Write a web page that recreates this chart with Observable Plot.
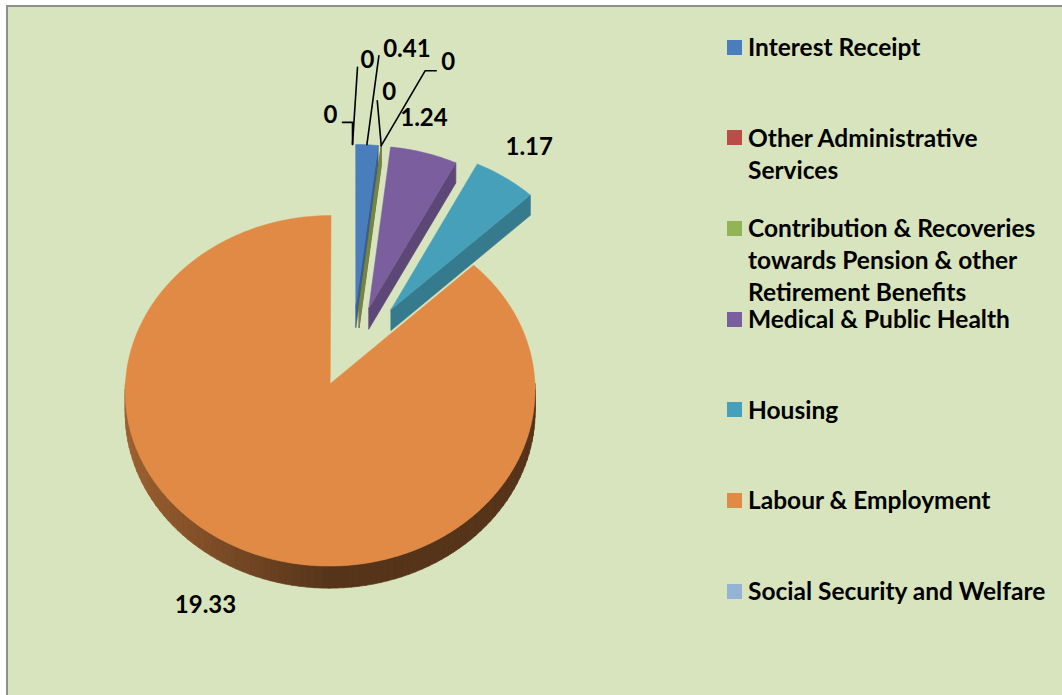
<!DOCTYPE html>
<html><head><meta charset="utf-8">
<script src="https://cdn.jsdelivr.net/npm/d3@7"></script>
<script src="https://cdn.jsdelivr.net/npm/@observablehq/plot@0.6"></script>
<style>
body{margin:0;background:#fff;font-family:Lato,"Open Sans",sans-serif;}
#frame{position:absolute;left:6px;top:5px;width:1060px;height:694px;background:#d7e4bd;border-left:2px solid #8f8f8f;border-top:2px solid #8f8f8f;}
#chart{position:absolute;left:0;top:0;}
#legend{position:absolute;left:727px;top:31px;}
.item{position:absolute;left:0;display:flex;align-items:flex-start;width:340px}
.sw{width:15px;height:15px;margin-top:8.5px;margin-right:6px;flex:none}
.lab{font-weight:700;font-size:24.5px;line-height:32px;color:#000;width:314px}
</style></head><body>
<div id="frame"></div><div id="chart"></div><div id="legend"></div>
<script>
// ---- data ----
const categories = [
  "Interest Receipt",
  "Other Administrative Services",
  "Contribution & Recoveries towards Pension & other Retirement Benefits",
  "Medical & Public Health",
  "Housing",
  "Labour & Employment",
  "Social Security and Welfare",
  "Others"
];
const values = [0.41, 0, 0, 1.24, 1.17, 19.33, 0, 0];
const colors = ["#4a7dbc", "#bb4d49", "#93b454", "#7b5e9d", "#47a0ba", "#e18a45", "#95b3d7", "#dc9896"];
const legendCount = 7; // entries that fit inside the chart frame

// ---- layout / style ----
const W = 1062, H = 695;
const CX = 352, CY = 346, RX = 203, RY = 172, P = 0.04, DEPTH = 21;
const EX = 0.28, EZ = 0.233; // explosion
const explode = [1, 1, 1, 1, 1.15, 1, 1, 1];
const labelLayout = [
  {dx: 40, dy: -95, ax: -28, ay: 6, elbow: 0, leader: true},
  {dx: 8, dy: -53, ax: -12, ay: 8, elbow: 0, leader: true},
  {dx: 67, dy: -83, ax: -12, ay: 8, elbow: -11, leader: true},
  {dx: 0, dy: -34},
  {dx: 24, dy: -30},
  {dx: -41, dy: 54},
  {dx: 15, dy: -84, ax: -10, ay: 7, elbow: 0, leader: true},
  {dx: -22, dy: -29, ax: 12, ay: 7, elbow: 10, leader: true}
];

const rows = categories.map((c, i) => ({category: c, value: values[i], color: colors[i], i}));
const arcs = d3.pie().sort(null).value(d => d.value)(rows);

function proj(X, Z, h = 0) {
  const w = 1 / (1 - P * Z);
  return {x: X * w, y: Z * w + h * w / RY};
}
function shade(c, k) {
  const r = d3.rgb(c);
  return d3.rgb(r.r * k, r.g * k, r.b * k).formatHex();
}

const faces = [], walls = [], labels = [], leaders = [];
const STEP = Math.PI / 180;
arcs.forEach((a, idx) => {
  const d = a.data;
  const a0 = a.startAngle, a1 = a.endAngle, m = (a0 + a1) / 2;
  const ox = EX * explode[idx] * Math.sin(m), oz = -EZ * explode[idx] * Math.cos(m);
  const pt = (ang, h = 0) => proj(ox + Math.sin(ang), oz - Math.cos(ang), h);
  const ap = (h = 0) => proj(ox, oz, h);
  // top face
  if (a1 > a0) {
    const pts = [ap()];
    const n = Math.max(2, Math.ceil((a1 - a0) / STEP));
    for (let k = 0; k <= n; k++) pts.push(pt(a0 + (a1 - a0) * k / n));
    pts.push(ap());
    pts.forEach(p => faces.push({id: "f" + idx, x: p.x, y: p.y, color: d.color}));
    // outer wall (front half)
    const lo = Math.max(a0, Math.PI / 2), hi = Math.min(a1, 3 * Math.PI / 2);
    if (hi > lo) {
      const nw = Math.max(1, Math.ceil((hi - lo) / (STEP * 2)));
      for (let k = 0; k < nw; k++) {
        const b0 = lo + (hi - lo) * k / nw, b1 = lo + (hi - lo) * (k + 1) / nw;
        const bm = (b0 + b1) / 2;
        const col = shade(d.color, 0.38 + 0.32 * Math.max(0, -Math.sin(bm)));
        const q = [pt(b0), pt(b1 + 0.002), pt(b1 + 0.002, DEPTH), pt(b0, DEPTH), pt(b0)];
        q.forEach(p => walls.push({id: `w${idx}_${k}`, x: p.x, y: p.y, color: col}));
      }
    }
  }
  // radial faces
  const radial = (ang, tag) => {
    const col = shade(d.color, 0.76);
    const q = [ap(), pt(ang), pt(ang, DEPTH), ap(DEPTH), ap()];
    q.forEach(p => walls.push({id: `r${idx}_${tag}`, x: p.x, y: p.y, color: col}));
  };
  if (Math.sin(a0) < -1e-6) radial(a0, "s");
  if (Math.sin(a1) > 1e-6) radial(a1, "e");
  // labels
  const L = labelLayout[idx];
  const o = pt(m);
  const lx = o.x + L.dx / RX, ly = o.y + L.dy / RY;
  labels.push({x: lx, y: ly, text: String(d.value)});
  if (L.leader) {
    const axp = lx + L.ax / RX, ayp = ly + L.ay / RY;
    leaders.push({id: "l" + idx, x: axp, y: ayp});
    if (L.elbow) leaders.push({id: "l" + idx, x: axp + L.elbow / RX, y: ayp});
    leaders.push({id: "l" + idx, x: o.x, y: o.y});
  }
});

const chart = Plot.plot({
  width: W, height: H,
  margin: 0,
  style: {background: "transparent", overflow: "visible"},
  x: {domain: [-CX / RX, (W - CX) / RX], range: [0, W], axis: null},
  y: {domain: [-CY / RY, (H - CY) / RY], range: [0, H], axis: null},
  color: {type: "identity"},
  marks: [
    Plot.line(walls, {x: "x", y: "y", z: "id", fill: "color", stroke: "color", strokeWidth: 0.7}),
    Plot.line(faces, {x: "x", y: "y", z: "id", fill: "color", stroke: "color", strokeWidth: 0.5}),
    Plot.line(leaders, {x: "x", y: "y", z: "id", stroke: "black", strokeWidth: 1.6}),
    Plot.text(labels, {x: "x", y: "y", text: "text", fill: "black", fontSize: 24, fontWeight: "bold", fontFamily: "Lato, 'Open Sans', sans-serif"})
  ]
});
document.getElementById("chart").appendChild(chart);

// legend
const leg = document.getElementById("legend");
rows.slice(0, legendCount).forEach((r, i) => {
  const it = document.createElement("div");
  it.className = "item";
  it.style.top = (i * 90.67) + "px";
  const sw = document.createElement("div");
  sw.className = "sw"; sw.style.background = r.color;
  const lab = document.createElement("div");
  lab.className = "lab"; lab.textContent = r.category;
  it.appendChild(sw); it.appendChild(lab);
  leg.appendChild(it);
});
</script></body></html>
